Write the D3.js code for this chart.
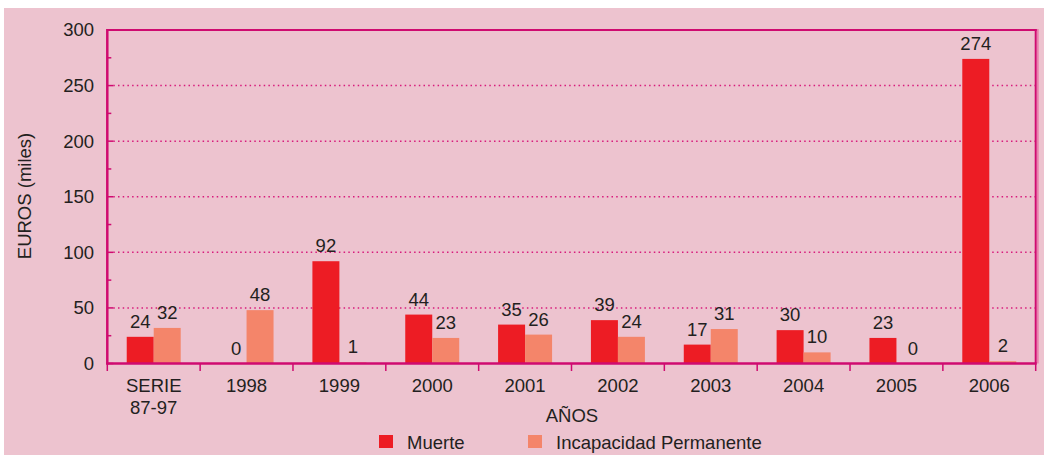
<!DOCTYPE html>
<html>
<head>
<meta charset="utf-8">
<script src="https://cdn.jsdelivr.net/npm/d3@7/dist/d3.min.js"></script>
<style>
  html, body { margin: 0; padding: 0; background: #ffffff; }
  svg { display: block; }
  text { font-family: "Liberation Sans", Arial, Helvetica, sans-serif; fill: #231f20; }
</style>
</head>
<body>
<svg id="chart" width="1044" height="455"></svg>
<script>
// Categories (years) and the two series, in thousands of euros
const categories = ["SERIE\n87-97", "1998", "1999", "2000", "2001", "2002", "2003", "2004", "2005", "2006"];
const seriesNames = ["Muerte", "Incapacidad Permanente"];
const muerte = [24, 0, 92, 44, 35, 39, 17, 30, 23, 274];
const incapacidad = [32, 48, 1, 23, 26, 24, 31, 10, 0, 2];
const yTicks = [0, 50, 100, 150, 200, 250, 300];
const yMinorTicks = [25, 75, 125, 175, 225, 275];
const yTitle = "EUROS (miles)";
const xTitle = "AÑOS";

const colors = { "Muerte": "#ed1c24", "Incapacidad Permanente": "#f4856a" };
const axisColor = "#cf0b70";
const panelColor = "#edc3cf";
const fontSize = 18.5;

const svg = d3.select("#chart");

// Pink panel behind everything
svg.append("rect")
  .attr("x", 4).attr("y", 8)
  .attr("width", 1040).attr("height", 447)
  .attr("fill", panelColor);

const plotLeft = 107.3, plotRight = 1035.7, plotTop = 30, plotBottom = 363.5;

const rows = categories.map((c, i) => ({
  cat: c,
  values: [
    { key: seriesNames[0], value: muerte[i] },
    { key: seriesNames[1], value: incapacidad[i] }
  ]
}));

const x0 = d3.scaleBand().domain(categories).range([plotLeft, plotRight]).padding(0);
const x1 = d3.scaleBand().domain(seriesNames)
  .range([0, x0.bandwidth()]).paddingInner(0).paddingOuter(0.72);
const y = d3.scaleLinear().domain([0, 300]).range([plotBottom, plotTop]);

// Dotted horizontal gridlines at the major ticks
svg.append("g")
  .selectAll("line")
  .data(yTicks.filter(t => t > 0 && t < 300))
  .join("line")
  .attr("x1", plotLeft + 6).attr("x2", plotRight)
  .attr("y1", d => y(d)).attr("y2", d => y(d))
  .attr("stroke", "#d81b7c")
  .attr("stroke-width", 1.5)
  .attr("stroke-dasharray", "1.5,3.2");

// Bars
const groups = svg.append("g")
  .selectAll("g")
  .data(rows)
  .join("g")
  .attr("transform", d => `translate(${x0(d.cat)},0)`);

groups.selectAll("rect")
  .data(d => d.values)
  .join("rect")
  .attr("x", d => x1(d.key))
  .attr("y", d => y(d.value))
  .attr("width", x1.bandwidth())
  .attr("height", d => y(0) - y(d.value))
  .attr("fill", d => colors[d.key]);

// Value labels above each bar
groups.selectAll("text")
  .data(d => d.values)
  .join("text")
  .attr("x", d => x1(d.key) + x1.bandwidth() / 2 + (d.value === 0 ? 3 : 0))
  .attr("y", d => y(d.value) - 9)
  .attr("text-anchor", "middle")
  .attr("font-size", fontSize)
  .text(d => d.value);

// Frame: top and right edges
svg.append("line")
  .attr("x1", plotLeft).attr("x2", plotRight + 1)
  .attr("y1", y(300)).attr("y2", y(300))
  .attr("stroke", axisColor).attr("stroke-width", 2);
svg.append("line")
  .attr("x1", plotRight).attr("x2", plotRight)
  .attr("y1", y(300) - 1).attr("y2", plotBottom)
  .attr("stroke", axisColor).attr("stroke-width", 2);
svg.append("line")
  .attr("x1", plotRight + 2.2).attr("x2", plotRight + 2.2)
  .attr("y1", y(300) - 1).attr("y2", plotBottom)
  .attr("stroke", "#e7669f").attr("stroke-width", 1.2);

// Left axis: tick labels, major and minor ticks pointing inward
const yAxis = svg.append("g");
yAxis.append("line")
  .attr("x1", plotLeft).attr("x2", plotLeft)
  .attr("y1", y(300) - 1).attr("y2", plotBottom + 1)
  .attr("stroke", axisColor).attr("stroke-width", 2.5);
yAxis.selectAll("line.major")
  .data(yTicks)
  .join("line")
  .attr("class", "major")
  .attr("x1", plotLeft).attr("x2", plotLeft + 6)
  .attr("y1", d => y(d)).attr("y2", d => y(d))
  .attr("stroke", axisColor).attr("stroke-width", 1.5);
yAxis.selectAll("line.minor")
  .data(yMinorTicks)
  .join("line")
  .attr("class", "minor")
  .attr("x1", plotLeft).attr("x2", plotLeft + 4)
  .attr("y1", d => y(d)).attr("y2", d => y(d))
  .attr("stroke", axisColor).attr("stroke-width", 1.5);
yAxis.selectAll("text")
  .data(yTicks)
  .join("text")
  .attr("x", 94)
  .attr("y", d => y(d))
  .attr("dy", "0.35em")
  .attr("text-anchor", "end")
  .attr("font-size", fontSize)
  .text(d => d);

// Bottom axis: baseline, boundary ticks pointing down, category labels
const xAxis = svg.append("g");
xAxis.append("line")
  .attr("x1", plotLeft - 1).attr("x2", plotRight + 1)
  .attr("y1", plotBottom).attr("y2", plotBottom)
  .attr("stroke", axisColor).attr("stroke-width", 2.5);
const boundaries = categories.map(c => x0(c)).concat([x0.range()[1]]);
xAxis.selectAll("line.tick")
  .data(boundaries)
  .join("line")
  .attr("class", "tick")
  .attr("x1", d => d).attr("x2", d => d)
  .attr("y1", plotBottom).attr("y2", plotBottom + 7.5)
  .attr("stroke", axisColor).attr("stroke-width", 1.5);
xAxis.selectAll("text")
  .data(categories)
  .join("text")
  .attr("x", d => x0(d) + x0.bandwidth() / 2)
  .attr("y", 392)
  .attr("text-anchor", "middle")
  .attr("font-size", fontSize)
  .each(function (d) {
    const t = d3.select(this);
    d.split("\n").forEach((line, i) => {
      t.append("tspan")
        .attr("x", x0(d) + x0.bandwidth() / 2)
        .attr("dy", i === 0 ? 0 : 22)
        .text(line);
    });
  });

// Axis titles
svg.append("text")
  .attr("transform", `translate(31,196) rotate(-90)`)
  .attr("text-anchor", "middle")
  .attr("font-size", fontSize)
  .text(yTitle);

svg.append("text")
  .attr("x", 572).attr("y", 422)
  .attr("text-anchor", "middle")
  .attr("font-size", fontSize)
  .text(xTitle);

// Legend
const legendX = [379, 528];
const legend = svg.append("g")
  .selectAll("g")
  .data(seriesNames)
  .join("g")
  .attr("transform", (d, i) => `translate(${legendX[i]},435)`);
legend.append("rect")
  .attr("width", 14).attr("height", 13)
  .attr("fill", d => colors[d]);
legend.append("text")
  .attr("x", 28).attr("y", 13.5)
  .attr("font-size", fontSize)
  .text(d => d);
</script>
</body>
</html>
